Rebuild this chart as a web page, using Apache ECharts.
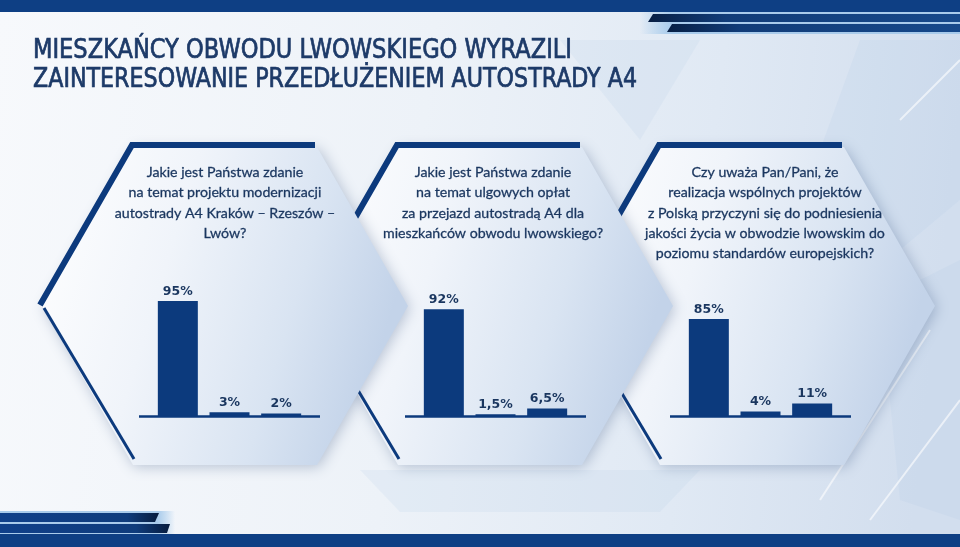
<!DOCTYPE html>
<html><head><meta charset="utf-8">
<script src="https://cdn.jsdelivr.net/npm/echarts@6/dist/echarts.min.js"></script>
<style>html,body{margin:0;padding:0;background:#eef2f8;} #c{width:960px;height:547px;}</style>
</head><body><div id="c"></div>
<script>
// ---- data ----
const titleLines = ['MIESZKAŃCY OBWODU LWOWSKIEGO WYRAZILI', 'ZAINTERESOWANIE PRZEDŁUŻENIEM AUTOSTRADY A4'];
const question1 = ['Jakie jest Państwa zdanie', 'na temat projektu modernizacji', 'autostrady A4 Kraków – Rzeszów –', 'Lwów?'];
const question2 = ['Jakie jest Państwa zdanie', 'na temat ulgowych opłat', 'za przejazd autostradą A4 dla', 'mieszkańców obwodu lwowskiego?'];
const question3 = ['Czy uważa Pan/Pani, że', 'realizacja wspólnych projektów', 'z Polską przyczyni się do podniesienia', 'jakości życia w obwodzie lwowskim do', 'poziomu standardów europejskich?'];
const categories1 = ['Pozytywnie', 'Źle', 'Trudno mi\nodpowiedzieć'];
const categories2 = ['Pozytywnie', 'Źle', 'Trudno mi\nodpowiedzieć'];
const categories3 = ['Tak', 'Nie', 'Trudno mi\nodpowiedzieć'];
const values1 = [95, 3, 2];
const values2 = [92, 1.5, 6.5];
const values3 = [85, 4, 11];

// ---- layout ----
const NAVY = '#0c3a7d';
const TXT = '#1a365f';
const panels = [
  {cx: 225, q: question1, cats: categories1, vals: values1, grid: {left: 152, width: 155, top: 295, height: 121}},
  {cx: 490, q: question2, cats: categories2, vals: values2, grid: {left: 418, width: 155, top: 300, height: 116}},
  {cx: 752, q: question3, cats: categories3, vals: values3, grid: {left: 683, width: 155, top: 302, height: 114}}
];
const CY = 306, HT = 92, HM = 183, HH = 159;
function hex(cx) {
  return [[cx - HT, CY - HH], [cx + HT, CY - HH], [cx + HM, CY], [cx + HT, CY + HH], [cx - HT, CY + HH], [cx - HM, CY]];
}

const canvas = document.createElement('canvas');
const ctx = canvas.getContext('2d');
const TITLE_FONT = '500 27px "DejaVu Sans Condensed", "Liberation Sans Narrow", "DejaVu Sans", sans-serif';
ctx.font = TITLE_FONT;
const titleTargets = [539, 604];

const graphics = [];
// background
graphics.push({type: 'rect', z: -10, shape: {x: 0, y: 0, width: 960, height: 547},
  style: {fill: {type: 'linear', x: 0, y: 0, x2: 1, y2: 0.2, colorStops: [
    {offset: 0, color: '#f7f9fc'}, {offset: 0.45, color: '#edf2f8'}, {offset: 0.75, color: '#e0e9f4'}, {offset: 1, color: '#d2deee'}]}}});
// faint decorative shapes
const deco = [
  [[860, 40], [960, 40], [960, 200], [900, 250], [820, 150]],
  [[880, 300], [960, 260], [960, 520], [900, 500]],
  [[560, 40], [700, 40], [640, 140]],
  [[360, 470], [700, 470], [660, 512], [400, 512]]
];
deco.forEach(p => graphics.push({type: 'polygon', z: -9, shape: {points: p}, style: {fill: 'rgba(170,195,225,0.14)'}}));
[[[900, 120], [960, 60]], [[870, 520], [960, 400]], [[820, 500], [930, 330]]].forEach(l =>
  graphics.push({type: 'line', z: -9, shape: {x1: l[0][0], y1: l[0][1], x2: l[1][0], y2: l[1][1]}, style: {stroke: 'rgba(255,255,255,0.6)', lineWidth: 2}}));

// top band and stripes
graphics.push({type: 'rect', z: -8, shape: {x: 0, y: 0, width: 960, height: 12}, style: {fill: '#0e3f84'}});
graphics.push({type: 'rect', z: -8, shape: {x: 640, y: 12, width: 320, height: 22}, style: {fill: {type: 'linear', x: 0, y: 0, x2: 1, y2: 0, colorStops: [{offset: 0, color: 'rgba(160,200,235,0)'}, {offset: 0.1, color: '#a9cbeb'}, {offset: 1, color: '#a9cbeb'}]}}});
const stripeGrad = {type: 'linear', x: 0, y: 0, x2: 1, y2: 0, colorStops: [{offset: 0, color: '#081f44'}, {offset: 0.25, color: '#113c78'}, {offset: 1, color: '#17498b'}]};
graphics.push({type: 'polygon', z: -7, shape: {points: [[653, 14], [960, 14], [960, 22], [648, 22]]}, style: {fill: stripeGrad}});
graphics.push({type: 'polygon', z: -7, shape: {points: [[672, 24], [960, 24], [960, 32], [667, 32]]}, style: {fill: stripeGrad}});
// bottom stripes and band
graphics.push({type: 'rect', z: -8, shape: {x: 0, y: 511, width: 175, height: 24}, style: {fill: {type: 'linear', x: 0, y: 0, x2: 1, y2: 0, colorStops: [{offset: 0, color: '#a9cbeb'}, {offset: 0.9, color: '#a9cbeb'}, {offset: 1, color: 'rgba(160,200,235,0)'}]}}});
const stripeGrad2 = {type: 'linear', x: 0, y: 0, x2: 1, y2: 0, colorStops: [{offset: 0, color: '#10408a'}, {offset: 0.8, color: '#0f3c7c'}, {offset: 1, color: '#071c3e'}]};
graphics.push({type: 'polygon', z: -7, shape: {points: [[0, 513], [159, 513], [155, 522], [0, 522]]}, style: {fill: stripeGrad2}});
graphics.push({type: 'polygon', z: -7, shape: {points: [[0, 524], [170, 524], [167, 533], [0, 533]]}, style: {fill: stripeGrad2}});
graphics.push({type: 'rect', z: -6, shape: {x: 0, y: 534, width: 960, height: 13}, style: {fill: '#0e3f84'}});

// title
titleLines.forEach((t, i) => {
  const w = ctx.measureText(t).width;
  graphics.push({type: 'text', z: 5, x: 33, y: [50, 79][i] + 1, scaleX: titleTargets[i] / w,
    style: {text: t, x: 0, y: 0, font: TITLE_FONT, fill: '#1d3a68', align: 'left', verticalAlign: 'middle',
      stroke: '#1d3a68', lineWidth: 0.7}});
});

// panels: drawn from last to first so panel 1 is on top
for (let k = panels.length - 1; k >= 0; k--) {
  const p = panels[k];
  const pts = hex(p.cx);
  const zb = 1 - k * 0.1;
  graphics.push({type: 'polygon', z: zb - 0.05, shape: {points: pts},
    style: {fill: {type: 'linear', x: 0, y: 0, x2: 1, y2: 0.35, colorStops: [
      {offset: 0, color: '#ffffff'}, {offset: 0.4, color: '#f0f4fa'}, {offset: 0.75, color: '#d9e4f2'}, {offset: 1, color: '#c3d3e9'}]},
      shadowBlur: 14, shadowColor: 'rgba(30,60,110,0.28)', shadowOffsetX: 2, shadowOffsetY: 2}});
  // thick dark border along top and upper-left
  graphics.push({type: 'polyline', z: zb - 0.04, shape: {points: [[p.cx + HT - 2, CY - HH - 2], [p.cx - HT - 1, CY - HH - 2], [p.cx - HM - 2, CY - 1]]},
    style: {stroke: NAVY, lineWidth: 6, lineJoin: 'miter', fill: null}});
  // thin line along lower-left
  graphics.push({type: 'line', z: zb - 0.04, shape: {x1: p.cx - HM + 2, y1: CY + 2, x2: p.cx - HT + 1, y2: CY + HH - 6},
    style: {stroke: NAVY, lineWidth: 3}});
  // question text
  graphics.push({type: 'text', z: 5, style: {text: p.q.join('\n'), x: p.cx + (k === 0 ? 0 : (k === 1 ? 3 : 13)), y: 162,
    font: '14.2px Lato, "Open Sans", sans-serif', fill: TXT, align: 'center', verticalAlign: 'top', lineHeight: 20.4,
    stroke: TXT, lineWidth: 0.3}});
  // baseline (axis line) extended past the category band
  graphics.push({type: 'line', z: 5, shape: {x1: p.grid.left - 13, y1: p.grid.top + p.grid.height + 0.5, x2: p.grid.left + p.grid.width + 13, y2: p.grid.top + p.grid.height + 0.5},
    style: {stroke: NAVY, lineWidth: 2.5}});
}

const fmt = v => String(v).replace('.', ',') + '%';
const option = {
  animation: false,
  grid: panels.map(p => Object.assign({containLabel: false}, p.grid)),
  xAxis: panels.map((p, i) => ({
    type: 'category', gridIndex: i, data: p.cats,
    axisLine: {show: false}, axisTick: {show: false}, splitLine: {show: false},
    axisLabel: {interval: 0, margin: 5, color: TXT, fontSize: 8, fontWeight: 'bold', lineHeight: 8, fontFamily: '"Liberation Sans", Arial, sans-serif'}
  })),
  yAxis: panels.map((p, i) => ({type: 'value', gridIndex: i, min: 0, max: 100, show: false, splitLine: {show: false}})),
  series: panels.map((p, i) => ({
    type: 'bar', xAxisIndex: i, yAxisIndex: i, data: p.vals, barWidth: 40, z: 3,
    itemStyle: {color: NAVY},
    label: {show: true, position: 'top', distance: 3, formatter: d => fmt(d.value), color: TXT,
      fontSize: 12.5, fontWeight: 'bold', fontFamily: '"DejaVu Sans", Verdana, sans-serif'}
  })),
  graphic: {elements: graphics}
};
const chart = echarts.init(document.getElementById('c'), null, {renderer: 'canvas'});
chart.setOption(option);
</script>
</body></html>
